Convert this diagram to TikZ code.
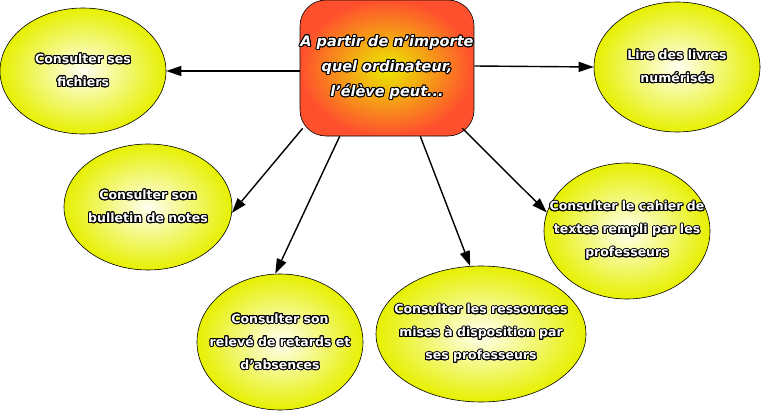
\documentclass[tikz,border=0pt]{standalone}
\usepackage{fontspec}
\setmainfont{DejaVu Sans}
\usepackage{contour}
\contourlength{1pt}
\contournumber{16}
\usetikzlibrary{shapes.geometric,arrows.meta,calc}
\definecolor{ellout}{RGB}{230,240,0}
\definecolor{ellin}{RGB}{255,255,240}
\definecolor{ctrin}{RGB}{235,235,0}
\definecolor{ctrout}{RGB}{255,80,45}
\newcommand{\ol}[1]{\contour{black}{#1}}
\tikzset{
  bubble/.style={ellipse, draw=black, line width=0.6pt, inner xsep=-40pt, inner ysep=-20pt,
    inner color=ellin, outer color=ellout, text=white, align=center,
    font=\bfseries\fontsize{12.5}{23}\selectfont},
  hub/.style={rectangle, rounded corners=26pt, draw=black, line width=0.6pt,
    inner color=ctrin, outer color=ctrout, minimum width=174pt, minimum height=136pt,
    inner sep=-10pt, text=white, align=center,
    font=\bfseries\itshape\fontsize{14.5}{25}\selectfont},
  link/.style={line width=1.4pt, -{Triangle[length=15pt,width=10pt]}}
}
\begin{document}
\begin{tikzpicture}[x=1pt,y=-1pt]
\useasboundingbox (0,0) rectangle (761,412);
\node[hub] (c) at (387,68) {\ol{A partir de n'importe}\\\ol{quel ordinateur,}\\\ol{l'élève peut...}};
\node[bubble, minimum width=166pt, minimum height=126pt] (e1) at (83,71) {\ol{Consulter ses}\\\ol{fichiers}};
\node[bubble, minimum width=166pt, minimum height=130pt] (e6) at (677,67) {\ol{Lire des livres}\\\ol{numérisés}};
\node[bubble, minimum width=168pt, minimum height=126pt] (e2) at (148,207) {\ol{Consulter son}\\\ol{bulletin de notes}};
\node[bubble, minimum width=166pt, minimum height=136pt] (e3) at (280,342) {\ol{Consulter son}\\\ol{relevé de retards et}\\\ol{d'absences}};
\node[bubble, minimum width=210pt, minimum height=136pt] (e4) at (481,334) {\ol{Consulter les ressources}\\\ol{mises à disposition par}\\\ol{ses professeurs}};
\node[bubble, minimum width=166pt, minimum height=136pt] (e5) at (627,231) {\ol{Consulter le cahier de}\\\ol{textes rempli par les}\\\ol{professeurs}};
\draw[link] ($(c.west)+(0,3)$) -- (e1.east);
\draw[link] ($(c.east)+(0,-2)$) -- (e6.west);
\draw[link] ($(c.south west)+(3,-8)$) -- (e2.-4);
\draw[link] ($(c.south west)+(40,0)$) -- (e3.94);
\draw[link] ($(c.south east)+(-54,0)$) -- (e4.99);
\draw[link] ($(c.south east)+(-12,-8)$) -- (e5.167);
\end{tikzpicture}
\end{document}
